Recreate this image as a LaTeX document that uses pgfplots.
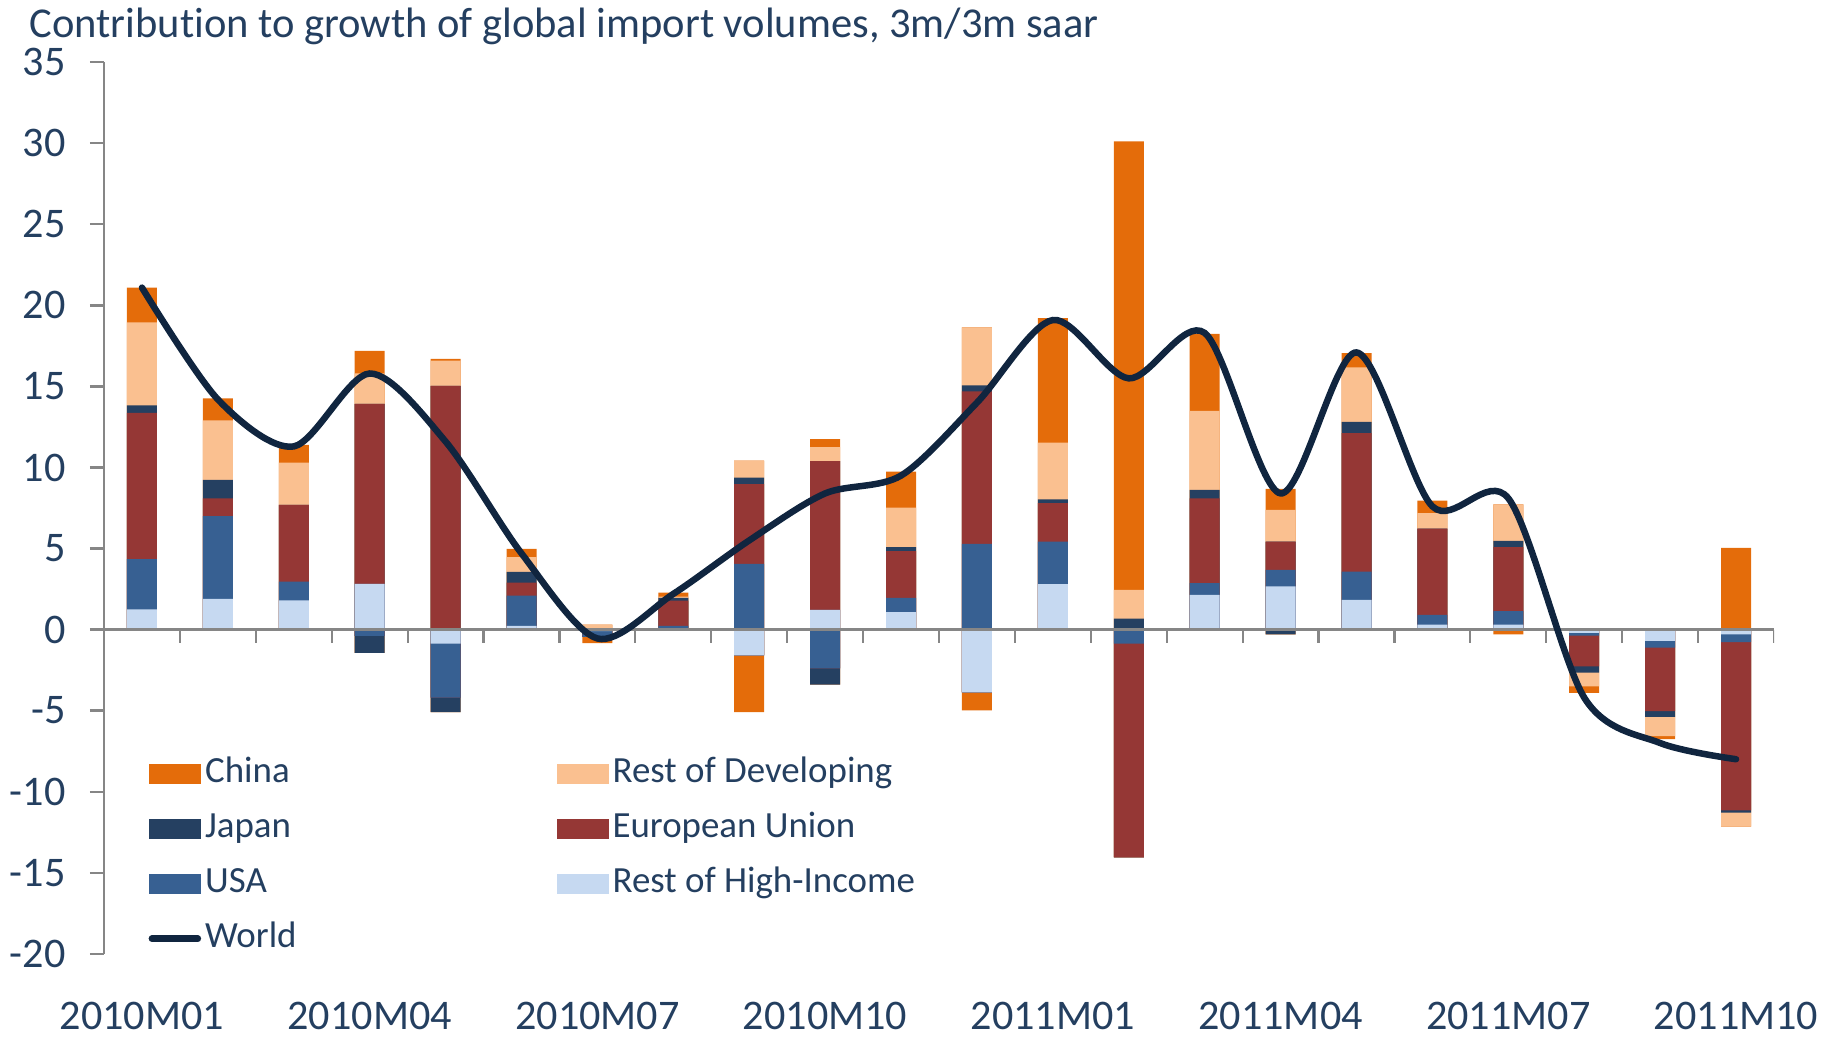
\documentclass[border=0pt]{standalone}
\usepackage{pgfplots}
\pgfplotsset{compat=1.18}
\usepackage{pgfplotstable}
\usepackage{fontspec}
\setmainfont{Carlito}[Ligatures=NoCommon]

\definecolor{cChina}{HTML}{E46C0A}
\definecolor{cRestDev}{HTML}{FAC090}
\definecolor{cJapan}{HTML}{254061}
\definecolor{cEU}{HTML}{953735}
\definecolor{cUSA}{HTML}{376092}
\definecolor{cRestHI}{HTML}{C6D9F1}
\definecolor{cWorld}{HTML}{10253F}
\definecolor{ctext}{HTML}{243F60}
\definecolor{axgray}{HTML}{868686}

% segment edges, stacked bottom-up:
% Rest of High-Income, USA, EU, Japan, Rest of Developing, China
% p* = upper edge of positive stack, n* = lower edge of negative stack
\pgfplotstableread{
x  pRH  pUS  pEU   pJP   pRD   pCH   nRH   nUS   nEU    nJP    nRD    nCH    w
0  1.25 4.34 13.37 13.83 18.95 21.10  0     0     0      0      0      0     21.1
1  1.90 7.00 8.10  9.24  12.90 14.26  0     0     0      0      0      0     14.2
2  1.80 2.96 7.70  7.70  10.30 11.40  0     0     0      0      0      0     11.3
3  2.82 2.82 13.93 13.93 15.80 17.20  0    -0.39 -0.39  -1.44  -1.44  -1.44   15.8
4  0    0    15.04 15.04 16.60 16.70 -0.86 -4.20 -4.20  -5.10  -5.10  -5.10   11.6
5  0.23 2.10 2.90  3.56  4.47  4.98   0     0     0      0      0      0     4.7
6  0    0    0     0     0.30  0.30  -0.10 -0.45 -0.45  -0.45  -0.45  -0.84  -0.55
7  0    0.23 1.79  1.95  2.04  2.28   0     0     0      0      0      0     2.2
8  0    4.05 8.97  9.38  10.43 10.43 -1.60 -1.60 -1.60  -1.60  -1.60  -5.10   5.5
9  1.21 1.21 10.40 10.40 11.25 11.75  0    -2.40 -2.40  -3.40  -3.40  -3.40   8.4
10 1.07 1.95 4.84  5.08  7.53  9.75   0     0     0      0      0      0     9.5
11 0    5.29 14.69 15.06 18.65 18.65 -3.87 -3.87 -3.87  -3.87  -3.87  -4.99   14.0
12 2.80 5.43 7.80  8.04  11.54 19.22  0     0     0      0      0      0     19.1
13 0    0    0     0.68  2.45  30.12  0    -0.86 -14.05 -14.05 -14.05 -14.05  15.5
14 2.14 2.86 8.10  8.62  13.50 18.25  0     0     0      0      0      0     18.3
15 2.67 3.68 5.43  5.43  7.39  8.68   0     0     0     -0.30  -0.30  -0.30   8.4
16 1.83 3.58 12.12 12.82 16.17 17.06  0     0     0      0      0      0     17.1
17 0.31 0.90 6.23  6.23  7.18  7.96   0     0     0      0      0      0     7.6
18 0.31 1.13 5.08  5.47  7.72  7.72   0     0     0      0      0     -0.29   8.1
19 0    0    0     0     0     0     -0.20 -0.37 -2.27  -2.66  -3.50  -3.90  -4.2
20 0    0    0     0     0     0     -0.70 -1.11 -5.04  -5.39  -6.58  -6.76  -7.0
21 0    0    0     0     0     5.04  -0.30 -0.77 -11.15 -11.30 -12.16 -12.16 -8.0
}\imports

\pgfplotsset{
  seg/.style={ybar, bar width=3mm, bar shift=0pt, draw=none, fill=#1, forget plot},
  sq/.style={legend image code/.code={\fill[##1, draw=none] (0mm,-1mm) rectangle (5.2mm,1mm);}},
  wl/.style={legend image code/.code={\draw[##1, line cap=round] (0.3mm,0) -- (4.9mm,0);}},
}

\begin{document}
\begin{tikzpicture}
\useasboundingbox (-10.4mm,-8.73mm) rectangle (172mm,95.37mm);
\begin{axis}[
  scale only axis,
  width=167mm, height=89.14mm,
  xmin=-0.5, xmax=21.5,
  ymin=-20, ymax=35,
  axis y line*=left,
  axis x line*=bottom,
  x axis line style={draw=none},
  y axis line style={axgray, line width=0.24mm},
  xtick={0,3,...,21},
  xticklabels={2010M01,2010M04,2010M07,2010M10,2011M01,2011M04,2011M07,2011M10},
  x tick style={draw=none},
  ytick={-20,-15,...,35},
  y tick style={axgray, line width=0.22mm},
  tick align=outside,
  major tick length=1.4mm,
  tick label style={font=\fontsize{12}{14}\selectfont, text=ctext},
  /pgf/number format/assume math mode=true,
  xticklabel style={yshift=-2.2mm},
  yticklabel style={xshift=-1.2mm},
  legend columns=2,
  legend cell align=left,
  legend style={draw=none, fill=none, inner sep=0pt,
    at={(axis description cs:0.0263,0.2218)}, anchor=north west,
    font=\fontsize{10.5}{12}\selectfont, text=ctext, row sep=2.1mm,
    nodes={inner xsep=0.4mm, inner ysep=0pt, text height=2.6mm, text depth=0.8mm},
    /tikz/every even column/.append style={column sep=25.6mm}},
]
\addlegendimage{sq, fill=cChina}\addlegendentry{China}
\addlegendimage{sq, fill=cRestDev}\addlegendentry{Rest of Developing}
\addlegendimage{sq, fill=cJapan}\addlegendentry{Japan}
\addlegendimage{sq, fill=cEU}\addlegendentry{European Union}
\addlegendimage{sq, fill=cUSA}\addlegendentry{USA}
\addlegendimage{sq, fill=cRestHI}\addlegendentry{Rest of High-Income}
\addlegendimage{wl, color=cWorld, line width=0.65mm}\addlegendentry{World}

% positive stacks, drawn from the top segment down
\addplot[seg=cChina]   table[x=x, y=pCH] {\imports};
\addplot[seg=cRestDev] table[x=x, y=pRD] {\imports};
\addplot[seg=cJapan]   table[x=x, y=pJP] {\imports};
\addplot[seg=cEU]      table[x=x, y=pEU] {\imports};
\addplot[seg=cUSA]     table[x=x, y=pUS] {\imports};
\addplot[seg=cRestHI]  table[x=x, y=pRH] {\imports};
% negative stacks
\addplot[seg=cChina]   table[x=x, y=nCH] {\imports};
\addplot[seg=cRestDev] table[x=x, y=nRD] {\imports};
\addplot[seg=cJapan]   table[x=x, y=nJP] {\imports};
\addplot[seg=cEU]      table[x=x, y=nEU] {\imports};
\addplot[seg=cUSA]     table[x=x, y=nUS] {\imports};
\addplot[seg=cRestHI]  table[x=x, y=nRH] {\imports};

% zero line with category ticks
\draw[axgray, line width=0.22mm] (axis cs:-0.5,0) -- (axis cs:21.5,0);
\pgfplotsinvokeforeach{0.5,1.5,...,21.5}{
  \draw[axgray, line width=0.22mm] (axis cs:#1,0) -- ([yshift=-1.3mm]axis cs:#1,0);
}

\addplot[smooth, no markers, color=cWorld, line width=0.65mm, line cap=round, forget plot]
  table[x=x, y=w] {\imports};
\end{axis}
\node[anchor=base west, inner sep=0pt, font=\fontsize{12.1}{14}\selectfont, text=ctext]
  at (-7.5mm,91.6mm) {Contribution to growth of global import volumes, 3m/3m saar};
\end{tikzpicture}
\end{document}
